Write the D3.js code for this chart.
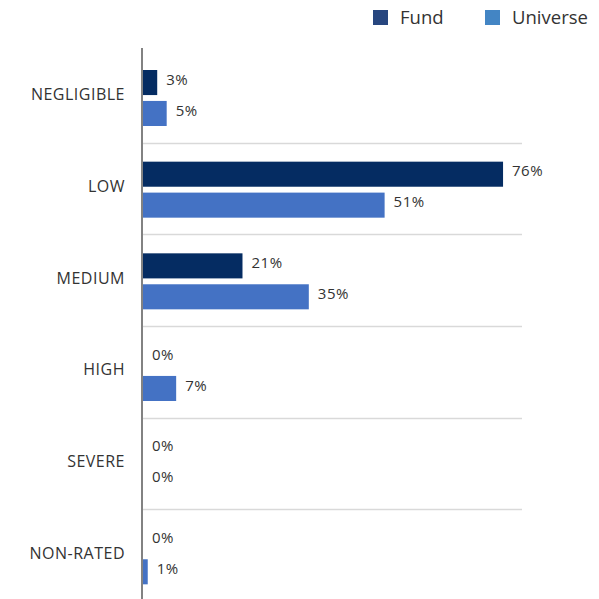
<!DOCTYPE html>
<html>
<head>
<meta charset="utf-8">
<script src="https://cdn.jsdelivr.net/npm/d3@7"></script>
<style>
  body { margin: 0; background: #fff; }
  text { font-family: "Open Sans", Lato, sans-serif; fill: #333; }
</style>
</head>
<body>
<script>
// chart data
let categories = ["NEGLIGIBLE", "LOW", "MEDIUM", "HIGH", "SEVERE", "NON-RATED"];
let seriesNames = ["Fund", "Universe"];
let fundValues = [3, 76, 21, 0, 0, 0];
let universeValues = [5, 51, 35, 7, 0, 1];

let barColors = ["#052c62", "#4472c4"];
let legendColors = ["#27467f", "#4385c4"];

let width = 599, height = 599;

let svg = d3.select("body")
    .append("svg")
    .attr("width", width)
    .attr("height", height);

// x scale: percent
let x = d3.scaleLinear()
    .domain([0, 80])
    .range([143, 522]);

// group bands
let y = d3.scaleBand()
    .domain(categories)
    .range([51, 601]);

let sub = d3.scaleBand()
    .domain(seriesNames)
    .range([19, 75])
    .paddingInner(0.19);

let data = categories.map(function(c, i) {
    return {cat: c, values: [fundValues[i], universeValues[i]]};
});

// separator lines between groups
svg.append("g")
    .selectAll("line")
    .data(categories.slice(1))
    .join("line")
    .attr("x1", x(0))
    .attr("x2", x(80))
    .attr("y1", d => Math.round(y(d)) + 0.5)
    .attr("y2", d => Math.round(y(d)) + 0.5)
    .attr("stroke", "#d9d9d9")
    .attr("stroke-width", 1.5);

let groups = svg.append("g")
    .selectAll("g")
    .data(data)
    .join("g")
    .attr("transform", d => "translate(0," + y(d.cat) + ")");

groups.selectAll("rect")
    .data(d => d.values.map((v, i) => ({name: seriesNames[i], v: v, i: i})))
    .join("rect")
    .attr("x", x(0))
    .attr("y", d => sub(d.name))
    .attr("width", d => x(d.v) - x(0))
    .attr("height", sub.bandwidth())
    .attr("fill", d => barColors[d.i]);

groups.selectAll("text.val")
    .data(d => d.values.map((v, i) => ({name: seriesNames[i], v: v, i: i})))
    .join("text")
    .attr("class", "val")
    .attr("x", d => x(d.v) + 9)
    .attr("y", d => sub(d.name) + sub.bandwidth() / 2 - 3)
    .attr("dy", "0.35em")
    .attr("font-size", 15)
    .attr("letter-spacing", 0.5)
    .text(d => d.v + "%");

// category labels
groups.append("text")
    .attr("x", 125)
    .attr("y", y.bandwidth() / 2 - 2)
    .attr("dy", "0.35em")
    .attr("text-anchor", "end")
    .attr("font-size", 16)
    .attr("letter-spacing", 0.5)
    .attr("fill", "#404040")
    .text(d => d.cat);

// axis line
svg.append("line")
    .attr("x1", x(0) - 1)
    .attr("x2", x(0) - 1)
    .attr("y1", 48)
    .attr("y2", height)
    .attr("stroke", "#595959")
    .attr("stroke-width", 1.5);

// legend
let legendX = [373, 485];
let legend = svg.append("g")
    .selectAll("g")
    .data(seriesNames)
    .join("g")
    .attr("transform", (d, i) => "translate(" + legendX[i] + ",10)");

legend.append("rect")
    .attr("width", 15)
    .attr("height", 15)
    .attr("fill", (d, i) => legendColors[i]);

legend.append("text")
    .attr("x", 27)
    .attr("y", 8)
    .attr("dy", "0.35em")
    .attr("font-size", 18.5)
    .attr("fill", "#555")
    .text(d => d);
</script>
</body>
</html>
